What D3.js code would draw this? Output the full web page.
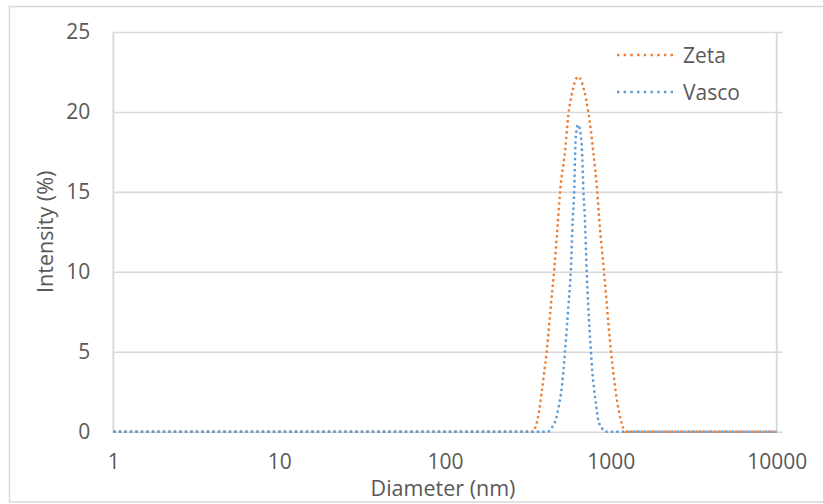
<!DOCTYPE html>
<html>
<head>
<meta charset="utf-8">
<script src="https://cdn.jsdelivr.net/npm/d3@7"></script>
<style>
html,body{margin:0;padding:0;background:#fff;}
svg{display:block;}
</style>
</head>
<body>
<svg id="chart" width="823" height="504"></svg>
<script>
// ---- data ----
const seriesNames = ["Zeta", "Vasco"];
const zetaDiameter = [1, 341, 354, 369, 383, 397, 410, 434, 456, 476, 496, 529, 554, 581, 636, 692, 731, 784, 825, 860, 906, 948, 1002, 1034, 1070, 1120, 1172, 1217, 10000];
const zetaIntensity = [0, 0, 0.42, 1.25, 2.5, 3.75, 5.0, 7.8, 10.2, 12.7, 15.2, 17.5, 19.8, 21.1, 22.2, 21.3, 20.0, 17.5, 15.2, 12.7, 10.2, 7.8, 5.0, 3.75, 2.5, 1.25, 0.42, 0, 0];
const vascoDiameter = [1, 416, 440, 465, 487, 505, 517, 529, 554, 573, 589, 602, 608, 614, 636, 661, 673, 682, 698, 715, 731, 759, 773, 792, 814, 840, 881, 922, 10000];
const vascoIntensity = [0, 0, 0.25, 0.73, 1.67, 2.7, 3.75, 5.0, 7.8, 10.0, 13.3, 15.2, 17.1, 18.4, 19.2, 18.4, 17.1, 15.2, 13.3, 10.0, 7.8, 5.0, 3.75, 2.7, 1.67, 0.73, 0.25, 0, 0];
const xTicks = [1, 10, 100, 1000, 10000];
const yTicks = [0, 5, 10, 15, 20, 25];
const xTitle = "Diameter (nm)";
const yTitle = "Intensity (%)";

(function () {
  const svg = d3.select("#chart");
  const font = "'Open Sans', 'Liberation Sans', sans-serif";
  const textColor = "#595959";
  const gridColor = "#D9D9D9";
  const colors = ["#ED7D31", "#5B9BD5"];

  const pLeft = 113.3, pRight = 776.7, pTop = 32, pBottom = 431.7, gridRight = 782.7;

  const x = d3.scaleLog().domain([1, 10000]).range([pLeft, pRight]);
  const y = d3.scaleLinear().domain([0, 25]).range([pBottom, pTop]);

  // outer chart border
  svg.append("rect")
    .attr("x", 9.5).attr("y", 6.5).attr("width", 840).attr("height", 495.5)
    .attr("fill", "none").attr("stroke", gridColor).attr("stroke-width", 1.5);

  // y axis with gridlines
  const gy = svg.append("g").attr("transform", `translate(${pLeft},0)`)
    .call(d3.axisLeft(y).tickValues(yTicks).tickSize(-(gridRight - pLeft)).tickPadding(23).tickFormat(d3.format("d")));
  gy.select(".domain").remove();
  gy.selectAll(".tick line").attr("stroke", gridColor).attr("stroke-width", 1.6);
  gy.selectAll(".tick text").attr("fill", textColor).style("font-family", font).style("font-size", "21px");

  // vertical frame lines at the ends of the x range
  svg.append("g").selectAll("line").data([1, 10000]).join("line")
    .attr("x1", d => x(d)).attr("x2", d => x(d))
    .attr("y1", y(25)).attr("y2", y(0))
    .attr("stroke", gridColor).attr("stroke-width", 1.8);

  // x axis
  const gx = svg.append("g").attr("transform", `translate(0,${pBottom})`)
    .call(d3.axisBottom(x).tickValues(xTicks).tickSize(0).tickPadding(22).tickFormat(d3.format("d")));
  gx.select(".domain").remove();
  gx.selectAll(".tick text").attr("fill", textColor).style("font-family", font).style("font-size", "21px");

  // axis titles
  svg.append("text")
    .attr("x", 443).attr("y", 487)
    .attr("text-anchor", "middle").attr("dominant-baseline", "central")
    .attr("fill", textColor).style("font-family", font).style("font-size", "21.5px")
    .text(xTitle);
  svg.append("text")
    .attr("transform", `translate(44,${(pTop + pBottom) / 2}) rotate(-90)`)
    .attr("text-anchor", "middle").attr("dominant-baseline", "central")
    .attr("fill", textColor).style("font-family", font).style("font-size", "21.5px")
    .text(yTitle);

  // series
  const line = d3.line()
    .x(d => x(d[0])).y(d => y(d[1]))
    .curve(d3.curveMonotoneX);

  const series = [
    d3.zip(zetaDiameter, zetaIntensity),
    d3.zip(vascoDiameter, vascoIntensity)
  ];

  svg.append("g").selectAll("path").data(series).join("path")
    .attr("d", line)
    .attr("fill", "none")
    .attr("stroke", (d, i) => colors[i])
    .attr("stroke-width", 2.4)
    .attr("stroke-dasharray", "2.4 3.1");

  // legend
  const legend = svg.append("g");
  const legY = [55, 92];
  seriesNames.forEach((name, i) => {
    legend.append("line")
      .attr("x1", 617).attr("x2", 673)
      .attr("y1", legY[i]).attr("y2", legY[i])
      .attr("stroke", colors[i]).attr("stroke-width", 2.4)
      .attr("stroke-dasharray", "2.4 4.3");
    legend.append("text")
      .attr("x", 683).attr("y", legY[i])
      .attr("dominant-baseline", "central")
      .attr("fill", textColor).style("font-family", font).style("font-size", "21px")
      .text(name);
  });
})();
</script>
</body>
</html>
